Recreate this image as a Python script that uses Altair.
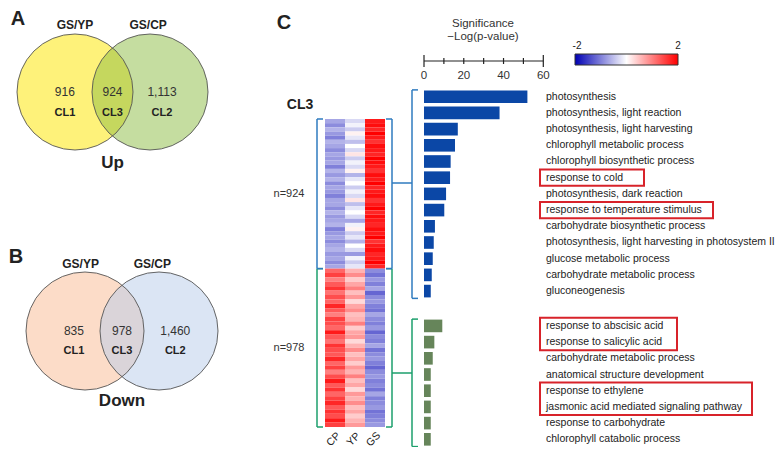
import altair as alt
import pandas as pd

FONT = "Liberation Sans"
W, H = 768, 439

# ---------------- data ----------------
venn_sets = ["GS/YP", "GS/CP"]
venn_clusters = ["CL1", "CL3", "CL2"]
up_counts = ["916", "924", "1,113"]
down_counts = ["835", "978", "1,460"]

up_terms = [
    "photosynthesis",
    "photosynthesis, light reaction",
    "photosynthesis, light harvesting",
    "chlorophyll metabolic process",
    "chlorophyll biosynthetic process",
    "response to cold",
    "photosynthesis, dark reaction",
    "response to temperature stimulus",
    "carbohydrate biosynthetic process",
    "photosynthesis, light harvesting in photosystem II",
    "glucose metabolic process",
    "carbohydrate metabolic process",
    "gluconeogenesis",
]
up_sig = [52, 38, 17, 15.6, 13.4, 13.1, 11.1, 10.2, 5.5, 4.9, 4.4, 3.9, 3.4]

down_terms = [
    "response to abscisic acid",
    "response to salicylic acid",
    "carbohydrate metabolic process",
    "anatomical structure development",
    "response to ethylene",
    "jasmonic acid mediated signaling pathway",
    "response to carbohydrate",
    "chlorophyll catabolic process",
]
down_sig = [9.2, 5.2, 4.4, 3.4, 3.4, 3.4, 3.4, 3.4]

highlight_groups = [
    ("up", ["response to cold"]),
    ("up", ["response to temperature stimulus"]),
    ("down", ["response to abscisic acid", "response to salicylic acid"]),
    ("down", ["response to ethylene", "jasmonic acid mediated signaling pathway"]),
]

sig_ticks = [0, 10, 20, 30, 40, 50, 60]
sig_tick_labels = [0, 20, 40, 60]

samples = ["CP", "YP", "GS"]
cluster_labels = ["n=924", "n=978"]
cluster_sizes = [924, 978]

heat_up_CP = [-0.7, -0.9, -0.6, -0.8, -1.0, -0.6, -0.7, -0.9, -0.7, -0.8, -0.7, -1.0,
              -0.6, -0.8, -0.6, -0.9, -0.7, -0.8, -1.0, -0.7, -0.7, -0.9, -0.6, -0.8,
              -0.7, -0.6, -1.0, -0.8, -0.7, -0.9, -0.7, -0.6, -0.8, -0.7, -0.9, -0.7]
heat_up_YP = [-0.3, -0.1, -0.4, 0.1, -0.2, -0.5, 0.0, -0.3, 0.2, -0.4, -0.1, -0.3,
              0.1, -0.6, -0.2, 0.0, -0.4, -0.1, -0.3, 0.2, -0.5, -0.2, 0.0, -0.3,
              -0.7, -0.1, 0.1, -0.4, -0.2, -0.6, 0.0, -0.3, -0.8, -0.1, -0.4, -0.2]
heat_up_GS = [1.8, 1.9, 1.7, 2.0, 1.8, 1.6, 1.9, 1.8, 1.7, 2.0, 1.9, 1.8,
              1.6, 1.9, 1.8, 2.0, 1.7, 1.8, 1.9, 1.6, 1.8, 2.0, 1.7, 1.9,
              1.8, 1.7, 1.9, 1.8, 2.0, 1.6, 1.8, 1.9, 1.7, 1.8, 2.0, 1.7]
heat_down_CP = [1.2, 1.5, 1.0, 1.3, 1.6, 1.1, 1.4, 1.2, 1.7, 1.3, 1.0, 1.5,
                1.4, 1.2, 1.8, 1.3, 1.1, 1.6, 1.4, 1.3, 1.7, 1.2, 1.5, 1.0,
                1.4, 1.8, 1.3, 1.6, 1.2, 1.5, 1.7, 1.3, 1.6, 1.4, 1.8, 1.5]
heat_down_YP = [0.6, 0.9, 0.4, 0.7, 1.0, 0.5, 0.8, 0.3, 0.7, 0.9, 0.5, 0.6,
                1.0, 0.4, 0.7, 0.8, 0.3, 0.6, 0.9, 0.5, 0.7, 0.4, 0.8, 0.6,
                1.0, 0.5, 0.7, 0.3, 0.8, 0.6, 0.9, 0.5, 0.7, 0.4, 0.6, 0.8]
heat_down_GS = [-0.9, -1.1, -0.8, -1.0, -0.7, -1.2, -0.9, -0.8, -1.0, -1.1, -0.7, -0.9,
                -1.0, -0.8, -1.2, -0.9, -1.0, -0.7, -1.1, -0.9, -0.8, -1.0, -1.2, -0.9,
                -0.8, -1.0, -0.9, -1.1, -0.7, -1.0, -0.9, -0.8, -1.1, -1.0, -0.9, -0.8]

# ---------------- styles / layout ----------------
HEAT_BLUE, HEAT_WHITE, HEAT_RED = "#0000b4", "#ffffff", "#ff0000"
BAR_UP, BAR_DOWN = "#0b47a6", "#66855a"
BR_BLUE, BR_GREEN = "#2f7bbf", "#1d9f6c"
BOX_RED = "#d8232a"
TXT = "#222222"

layers = []


def text_px(label, x, y, size=11, bold=False, color=TXT, align="center", angle=0):
    return alt.Chart(pd.DataFrame({"t": [label]})).mark_text(
        font=FONT, fontSize=size, fontWeight="bold" if bold else "normal",
        color=color, align=align, baseline="middle", angle=angle
    ).encode(x=alt.value(x), y=alt.value(y), text="t:N")


def lin(domain, rng):
    return alt.Scale(domain=domain, range=rng, nice=False, zero=False)


# ---------------- Venn diagrams ----------------
def venn(counts, title, xr, yr, size, fills, right_opacity, set_x, count_x):
    xs, ys = lin([-1, 1], xr), lin([-1, 1], yr)
    circ = pd.DataFrame({"set": venn_sets, "cx": [-1, 1], "cy": [0, 0]})
    out = []
    for i in range(2):
        out.append(
            alt.Chart(circ.iloc[[i]]).mark_point(
                shape="circle", filled=True, size=size, color=fills[i],
                opacity=1 if i == 0 else right_opacity, strokeWidth=0
            ).encode(x=alt.X("cx:Q", scale=xs, axis=None), y=alt.Y("cy:Q", scale=ys, axis=None))
        )
    out.append(
        alt.Chart(circ).mark_point(shape="circle", filled=False, size=size, color="#555555",
                                   strokeWidth=0.9, opacity=1)
        .encode(x=alt.X("cx:Q", scale=xs, axis=None), y=alt.Y("cy:Q", scale=ys, axis=None))
    )
    sets = pd.DataFrame({"set": venn_sets, "lx": set_x, "ly": [1.8, 1.8]})
    out.append(
        alt.Chart(sets).mark_text(font=FONT, fontSize=12, fontWeight="bold", color=TXT, baseline="middle")
        .encode(x=alt.X("lx:Q", scale=xs, axis=None), y=alt.Y("ly:Q", scale=ys, axis=None), text="set:N")
    )
    reg = pd.DataFrame({"count": counts, "cl": venn_clusters, "rx": count_x,
                        "cy": [0, 0, 0], "ly": [-0.55, -0.55, -0.55]})
    out.append(
        alt.Chart(reg).mark_text(font=FONT, fontSize=12, color="#333333", baseline="middle")
        .encode(x=alt.X("rx:Q", scale=xs, axis=None), y=alt.Y("cy:Q", scale=ys, axis=None), text="count:N")
    )
    out.append(
        alt.Chart(reg).mark_text(font=FONT, fontSize=11, fontWeight="bold", color=TXT, baseline="middle")
        .encode(x=alt.X("rx:Q", scale=xs, axis=None), y=alt.Y("ly:Q", scale=ys, axis=None), text="cl:N")
    )
    t = pd.DataFrame({"t": [title], "x": [0], "y": [-1.9]})
    out.append(
        alt.Chart(t).mark_text(font=FONT, fontSize=17, fontWeight="bold", color=TXT, baseline="middle")
        .encode(x=alt.X("x:Q", scale=xs, axis=None), y=alt.Y("y:Q", scale=ys, axis=None), text="t:N")
    )
    return out


layers += venn(up_counts, "Up", [67, 142], [121.5, 46.5], 13456,
               ["#fef27a", "#8bbb41"], 0.5, [-1.0, 0.95], [-1.27, 0, 1.32])
layers += venn(down_counts, "Down", [77, 151], [360, 286], 13924,
               ["#fcdcc8", "#b7cbe9"], 0.5, [-1.12, 0.82], [-1.3, 0, 1.44])

layers += [text_px("A", 10, 11, size=20, bold=True),
           text_px("B", 8, 249, size=20, bold=True),
           text_px("C", 276, 15, size=20, bold=True)]

# ---------------- heatmap ----------------
rows = []
offset = 0
for n, cols in zip(cluster_sizes, [(heat_up_CP, heat_up_YP, heat_up_GS),
                                   (heat_down_CP, heat_down_YP, heat_down_GS)]):
    k = len(cols[0])
    step = n / k
    for r in range(k):
        for s, col in zip(samples, cols):
            rows.append({"sample": s, "g0": offset + r * step, "g1": offset + (r + 1) * step, "z": col[r]})
    offset += n
heat = pd.DataFrame(rows)
total = sum(cluster_sizes)

hx = alt.Scale(domain=samples, range=[317, 377], paddingInner=0, paddingOuter=0)
hy = lin([0, total], [111, 419])
hcolor = alt.Scale(domain=[-2, 0, 2], range=[HEAT_BLUE, HEAT_WHITE, HEAT_RED], interpolate="rgb")

layers.append(
    alt.Chart(heat).mark_rect().encode(
        x=alt.X("sample:N", scale=hx, axis=None),
        y=alt.Y("g0:Q", scale=hy, axis=None), y2="g1:Q",
        color=alt.Color("z:Q", scale=hcolor, legend=None),
    )
)
layers.append(
    alt.Chart(pd.DataFrame({"sample": samples})).mark_text(
        font=FONT, fontSize=10.5, color=TXT, angle=315, align="center", baseline="middle", dx=-2
    ).encode(x=alt.X("sample:N", scale=hx, axis=None), y=alt.value(430), text="sample:N")
)

starts = [0, cluster_sizes[0]]
clus = pd.DataFrame({"cluster": cluster_labels, "g0": starts,
                     "g1": [starts[0] + cluster_sizes[0], starts[1] + cluster_sizes[1]],
                     "gm": [starts[0] + cluster_sizes[0] / 2, starts[1] + cluster_sizes[1] / 2]})
bcolor = alt.Scale(domain=cluster_labels, range=[BR_BLUE, BR_GREEN])

for xv, xt in [(309, 315), (384, 378)]:
    layers.append(alt.Chart(clus).mark_rule(strokeWidth=1.5).encode(
        x=alt.value(xv), y=alt.Y("g0:Q", scale=hy, axis=None), y2="g1:Q",
        color=alt.Color("cluster:N", scale=bcolor, legend=None)))
    for f in ["g0", "g1"]:
        layers.append(alt.Chart(clus).mark_rule(strokeWidth=1.5).encode(
            x=alt.value(xv), x2=alt.value(xt),
            y=alt.Y(f + ":Q", scale=hy, axis=None),
            color=alt.Color("cluster:N", scale=bcolor, legend=None)))

layers.append(alt.Chart(clus).mark_text(font=FONT, fontSize=11, color="#333333", baseline="middle").encode(
    x=alt.value(281), y=alt.Y("gm:Q", scale=hy, axis=None), text="cluster:N"))
layers.append(text_px("CL3", 292, 97, size=14, bold=True))

# connectors from heatmap bracket to bar bracket
conn = pd.DataFrame({"cluster": cluster_labels, "yp": [175, 365]})
layers.append(alt.Chart(conn).mark_rule(strokeWidth=1.5).encode(
    x=alt.value(384), x2=alt.value(404), y=alt.Y("yp:Q", scale=None),
    color=alt.Color("cluster:N", scale=bcolor, legend=None)))

# ---------------- GO bar chart ----------------
GAP = 1.15
go = pd.DataFrame(
    [{"term": t, "sig": v, "group": "up", "slot": i} for i, (t, v) in enumerate(zip(up_terms, up_sig))]
    + [{"term": t, "sig": v, "group": "down", "slot": len(up_terms) + GAP + j}
       for j, (t, v) in enumerate(zip(down_terms, down_sig))]
)
go["zero"] = 0
go["y0"] = go["slot"] - 0.39
go["y1"] = go["slot"] + 0.39
last_slot = go["slot"].max()

xs = lin([0, 60], [416, 535.3])
ys = lin([0, last_slot], [88.7, 431.3])
gcolor = alt.Scale(domain=["up", "down"], range=[BAR_UP, BAR_DOWN])

layers.append(alt.Chart(go).mark_rect().encode(
    x=alt.X("zero:Q", scale=xs, axis=None), x2="sig:Q",
    y=alt.Y("y0:Q", scale=ys, axis=None), y2="y1:Q",
    color=alt.Color("group:N", scale=gcolor, legend=None)))
layers.append(alt.Chart(go).mark_text(font=FONT, fontSize=10.5, color=TXT, align="left", baseline="middle").encode(
    x=alt.value(538), y=alt.Y("slot:Q", scale=ys, axis=None), text="term:N"))

# bar-group brackets
grp = go.groupby("group").agg(s0=("slot", "min"), s1=("slot", "max")).reset_index()
grp["s0"] = grp["s0"] - 0.42
grp["s1"] = grp["s1"] + 0.45
grp["cluster"] = grp["group"].map({"up": cluster_labels[0], "down": cluster_labels[1]})
layers.append(alt.Chart(grp).mark_rule(strokeWidth=1.5).encode(
    x=alt.value(404), y=alt.Y("s0:Q", scale=ys, axis=None), y2="s1:Q",
    color=alt.Color("cluster:N", scale=bcolor, legend=None)))
for f in ["s0", "s1"]:
    layers.append(alt.Chart(grp).mark_rule(strokeWidth=1.5).encode(
        x=alt.value(404), x2=alt.value(410), y=alt.Y(f + ":Q", scale=ys, axis=None),
        color=alt.Color("cluster:N", scale=bcolor, legend=None)))

# highlight boxes
box_right_px = [636, 705, 669, 744]
boxes = []
for (g, terms), xr in zip(highlight_groups, box_right_px):
    sl = go[go["term"].isin(terms) & (go["group"] == g)]["slot"]
    boxes.append({"b0": sl.min() - 0.5, "b1": sl.max() + 0.5, "xl": 532, "xr": xr})
boxes = pd.DataFrame(boxes)
layers.append(alt.Chart(boxes).mark_rect(filled=False, stroke=BOX_RED, strokeWidth=2).encode(
    x=alt.X("xl:Q", scale=None), x2="xr:Q",
    y=alt.Y("b0:Q", scale=ys, axis=None), y2="b1:Q"))

# significance axis (drawn manually)
AXY = 53
ax_line = pd.DataFrame({"a": [sig_ticks[0]], "b": [sig_ticks[-1]]})
layers.append(alt.Chart(ax_line).mark_rule(color="#222222", strokeWidth=1.2).encode(
    x=alt.X("a:Q", scale=xs, axis=None), x2="b:Q", y=alt.value(AXY)))
tk = pd.DataFrame({"v": sig_ticks})
tk["end"] = tk["v"].isin([sig_ticks[0], sig_ticks[-1]])
tk["t0"] = AXY - tk["end"].map({True: 6, False: 3})
tk["t1"] = AXY + tk["end"].map({True: 6, False: 3})
layers.append(alt.Chart(tk).mark_rule(color="#222222", strokeWidth=1.2).encode(
    x=alt.X("v:Q", scale=xs, axis=None), y=alt.Y("t0:Q", scale=None), y2="t1:Q"))
layers.append(alt.Chart(pd.DataFrame({"v": sig_tick_labels})).mark_text(
    font=FONT, fontSize=11.5, color="#333333", baseline="middle").encode(
    x=alt.X("v:Q", scale=xs, axis=None), y=alt.value(AXY + 15), text="v:Q"))
layers.append(text_px("Significance", 475, 16, size=11.5, color="#333333"))
layers.append(text_px("\u2212Log(p-value)", 475, 29, size=11.5, color="#333333"))

# colour key
grad = alt.LinearGradient(gradient="linear", x1=0, x2=1, y1=0, y2=0,
                          stops=[alt.GradientStop(color=HEAT_BLUE, offset=0),
                                 alt.GradientStop(color=HEAT_WHITE, offset=0.5),
                                 alt.GradientStop(color=HEAT_RED, offset=1)])
layers.append(alt.Chart(pd.DataFrame({"k": [0]})).mark_rect(color=grad, stroke="#333333", strokeWidth=1).encode(
    x=alt.value(567), x2=alt.value(670), y=alt.value(46), y2=alt.value(57)))
layers.append(text_px("-2", 569, 38, size=10))
layers.append(text_px("2", 670, 38, size=10))

chart = alt.layer(*layers).resolve_scale(
    x="independent", y="independent", color="independent"
).properties(
    width=W, height=H, padding=0, autosize=alt.AutoSizeParams(type="none"), background="white"
).configure_view(stroke=None)

chart.save("out.html", embed_options={"renderer": "svg", "actions": False})
